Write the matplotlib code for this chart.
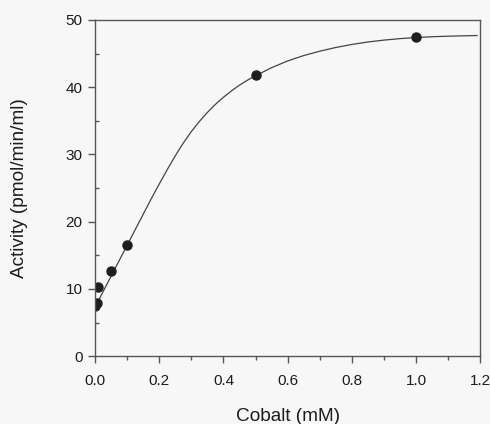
import matplotlib
matplotlib.use('Agg')
import matplotlib.pyplot as plt
from matplotlib.ticker import MultipleLocator

plt.rcParams['font.family'] = ['Liberation Sans', 'DejaVu Sans']

# measured points
cobalt = [0.0, 0.006, 0.01, 0.05, 0.1, 0.5, 1.0]
activity = [7.5, 7.9, 10.3, 12.6, 16.6, 41.8, 47.4]

# fitted curve
curve_x = [0.0, 0.05, 0.1, 0.15, 0.175, 0.2, 0.225, 0.25, 0.275, 0.3, 0.325,
           0.35, 0.375, 0.4, 0.425, 0.45, 0.475, 0.5, 0.55, 0.6, 0.65, 0.7,
           0.75, 0.8, 0.85, 0.9, 0.95, 1.0, 1.05, 1.1, 1.15, 1.19]
curve_y = [7.3, 11.9, 16.5, 21.1, 23.4, 25.6, 27.75, 29.8, 31.7, 33.4, 34.9,
           36.25, 37.45, 38.5, 39.45, 40.3, 41.05, 41.7, 42.9, 43.9, 44.7, 45.35,
           45.9, 46.35, 46.72, 47.0, 47.22, 47.38, 47.5, 47.58, 47.64, 47.68]

fig = plt.figure(figsize=(4.9, 4.24), dpi=100)
fig.patch.set_facecolor('#f7f7f7')
ax = fig.add_axes([0.194, 0.160, 0.786, 0.793])
ax.set_facecolor('#f7f7f7')

ax.plot(curve_x, curve_y, color='#444444', linewidth=0.9)
ax.plot(cobalt, activity, 'o', color='#1e1e1e', markersize=6.5)

ax.set_xlim(0, 1.2)
ax.set_ylim(0, 50)
ax.xaxis.set_major_locator(MultipleLocator(0.2))
ax.xaxis.set_minor_locator(MultipleLocator(0.1))
ax.yaxis.set_major_locator(MultipleLocator(10))
ax.yaxis.set_minor_locator(MultipleLocator(5))
ax.xaxis.set_major_formatter(plt.FormatStrFormatter('%.1f'))

for s in ax.spines.values():
    s.set_color('#555555')
    s.set_linewidth(1.0)

ax.tick_params(axis='both', which='major', direction='out', length=5, width=1,
               color='#555555', labelsize=11, labelcolor='#1c1c1c')
ax.tick_params(axis='x', which='minor', direction='out', length=3, width=1, color='#555555')
ax.tick_params(axis='y', which='minor', direction='in', length=3, width=1, color='#555555')
ax.tick_params(axis='x', pad=8)
ax.tick_params(axis='y', pad=4)

ax.set_xlabel('Cobalt (mM)', fontsize=13.7, color='#1c1c1c', labelpad=14)
ax.set_ylabel('Activity (pmol/min/ml)', fontsize=13.7, color='#1c1c1c', labelpad=27)

fig.savefig('out.png', dpi=100, facecolor=fig.get_facecolor())
